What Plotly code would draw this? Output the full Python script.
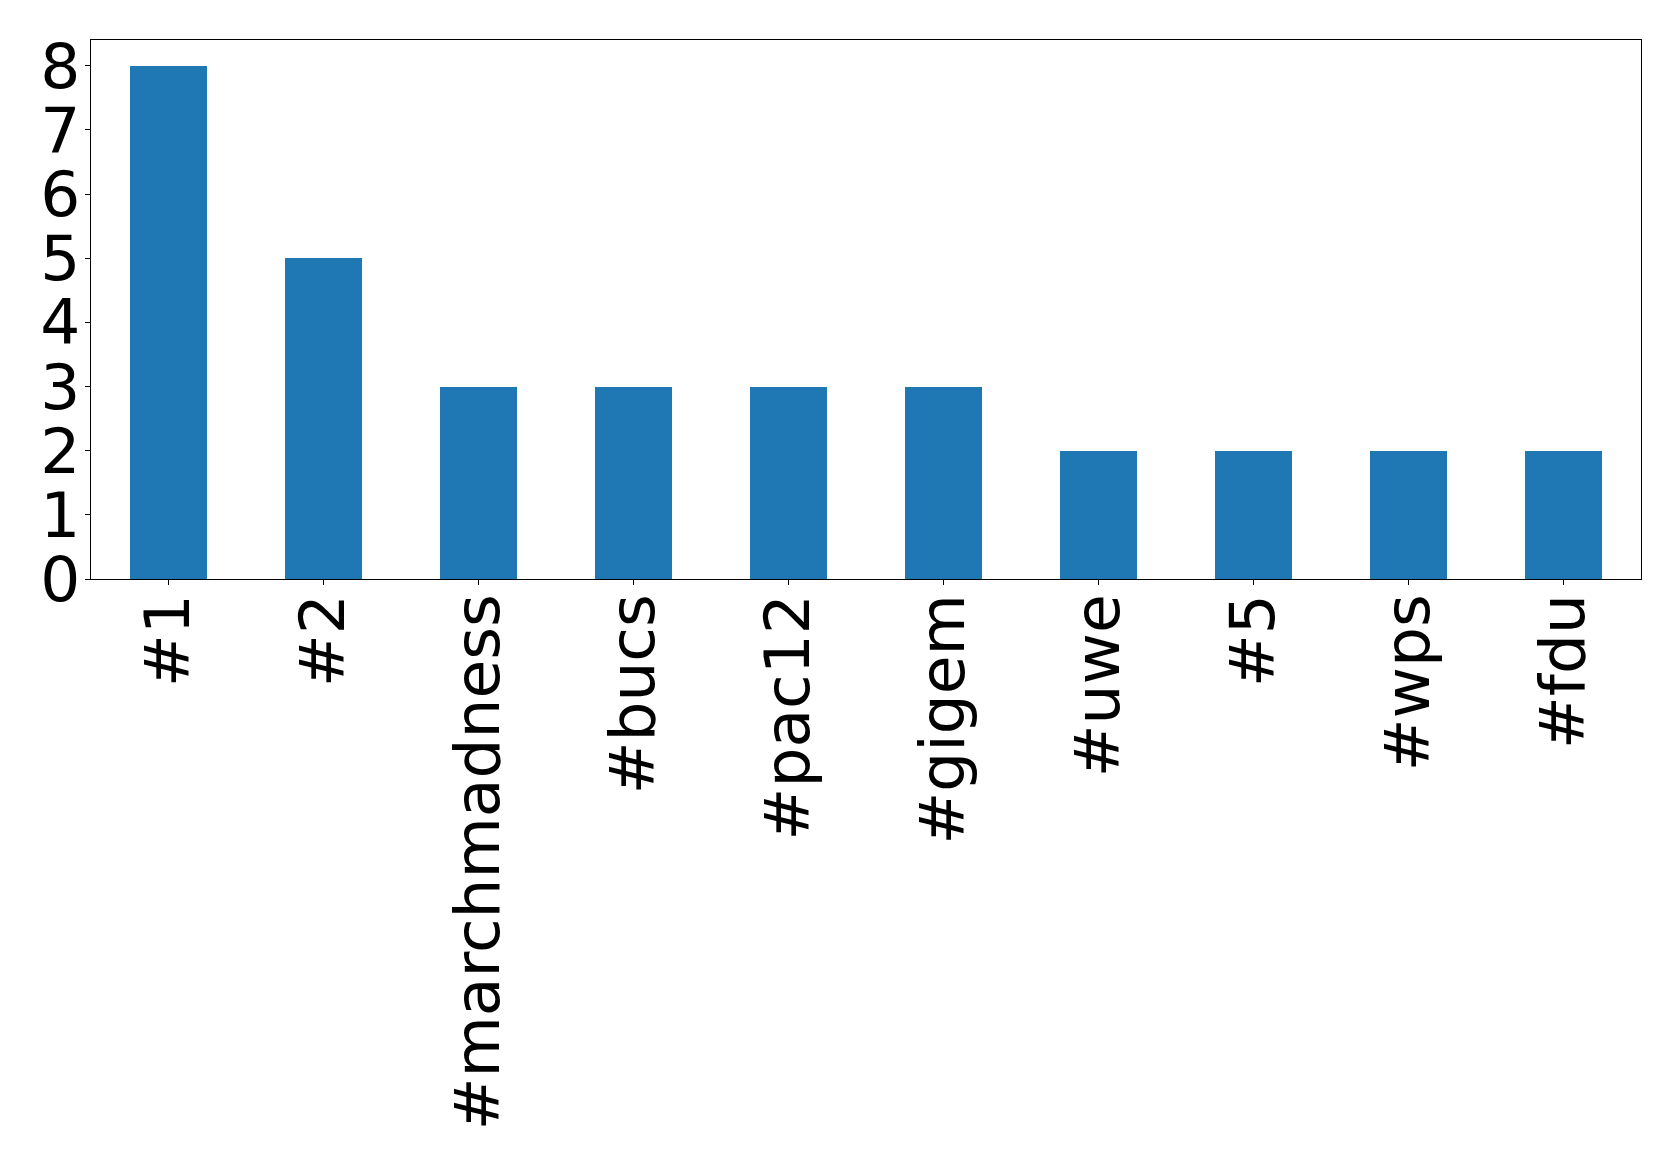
import plotly.graph_objects as go

# Hashtag counts
hashtags = ["#1", "#2", "#marchmadness", "#bucs", "#pac12", "#gigem",
            "#uwe", "#5", "#wps", "#fdu"]
counts = [8, 5, 3, 3, 3, 3, 2, 2, 2, 2]
y_ticks = [0, 1, 2, 3, 4, 5, 6, 7, 8]

fig = go.Figure(
    go.Bar(
        x=list(range(len(hashtags))),
        y=counts,
        width=0.5,
        marker=dict(color="#1f77b4", line=dict(width=0)),
    )
)

fig.update_layout(
    width=1679,
    height=1160,
    margin=dict(l=91, r=38, t=40, b=581, pad=0),
    paper_bgcolor="white",
    plot_bgcolor="white",
    font=dict(family="DejaVu Sans", size=63, color="black"),
    showlegend=False,
    bargap=0,
)

fig.update_xaxes(
    range=[-0.5, 9.5],
    tickmode="array",
    tickvals=list(range(len(hashtags))),
    ticktext=hashtags,
    tickangle=-90,
    ticks="outside",
    ticklen=5,
    tickwidth=1,
    tickcolor="black",
    ticklabelstandoff=-16,
    showline=True,
    linecolor="black",
    linewidth=1,
    mirror=True,
    showgrid=False,
    zeroline=False,
)

fig.update_yaxes(
    range=[0, 8.4],
    tickmode="array",
    tickvals=y_ticks,
    ticktext=[str(v) for v in y_ticks],
    ticks="outside",
    ticklen=5,
    tickwidth=1,
    tickcolor="black",
    ticklabelstandoff=-8,
    showline=True,
    linecolor="black",
    linewidth=1,
    mirror=True,
    showgrid=False,
    zeroline=False,
)

fig.write_html("out.html")
